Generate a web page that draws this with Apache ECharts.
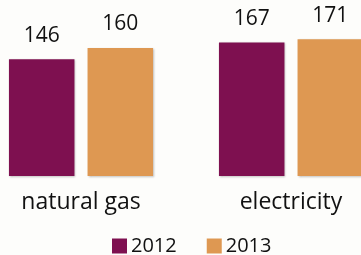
<!DOCTYPE html>
<html><head><meta charset="utf-8">
<script src="https://cdn.jsdelivr.net/npm/echarts@6/dist/echarts.min.js"></script>
<style>html,body{margin:0;padding:0;background:#fdfdfb;overflow:hidden;width:361px;height:255px}#c{position:absolute;left:-24px;top:0;width:420px;height:255px}</style>
</head><body><div id="c"></div>
<script>
const categories = ['natural gas', 'electricity'];
const seriesNames = ['2012', '2013'];
const values2012 = [146, 167];
const values2013 = [160, 171];
const colors = ['#7e1050', '#de9852'];
const FONT = 'Open Sans';
const chart = echarts.init(document.getElementById('c'));
const labelStyle = {show: true, position: 'top', distance: 13, fontFamily: FONT, fontSize: 21, color: '#111'};
chart.setOption({
  backgroundColor: '#fdfdfb',
  animation: false,
  grid: {left: 0, right: 0, top: 16, bottom: 79, containLabel: false},
  legend: {
    data: seriesNames, left: 136, top: 236, padding: 0, itemWidth: 15, itemHeight: 15, itemGap: 30,
    icon: 'rect', textStyle: {fontFamily: FONT, fontSize: 20, color: '#111', padding: [0,0,0,-1]}
  },
  xAxis: {
    type: 'category', data: categories,
    axisLine: {show: false}, axisTick: {show: false},
    axisLabel: {fontFamily: FONT, fontSize: 23, color: '#111', margin: 15}
  },
  yAxis: {type: 'value', min: 0, max: 200, show: false, splitLine: {show: false}},
  series: [
    {name: seriesNames[0], type: 'bar', data: values2012, barWidth: 65.5, barGap: '20%',
     itemStyle: {color: colors[0], shadowBlur: 2, shadowOffsetX: 1, shadowOffsetY: 1, shadowColor: 'rgba(0,0,0,0.25)'}, label: labelStyle},
    {name: seriesNames[1], type: 'bar', data: values2013, barWidth: 65.5,
     itemStyle: {color: colors[1], shadowBlur: 2, shadowOffsetX: 1, shadowOffsetY: 1, shadowColor: 'rgba(0,0,0,0.25)'}, label: labelStyle}
  ]
});
</script></body></html>
